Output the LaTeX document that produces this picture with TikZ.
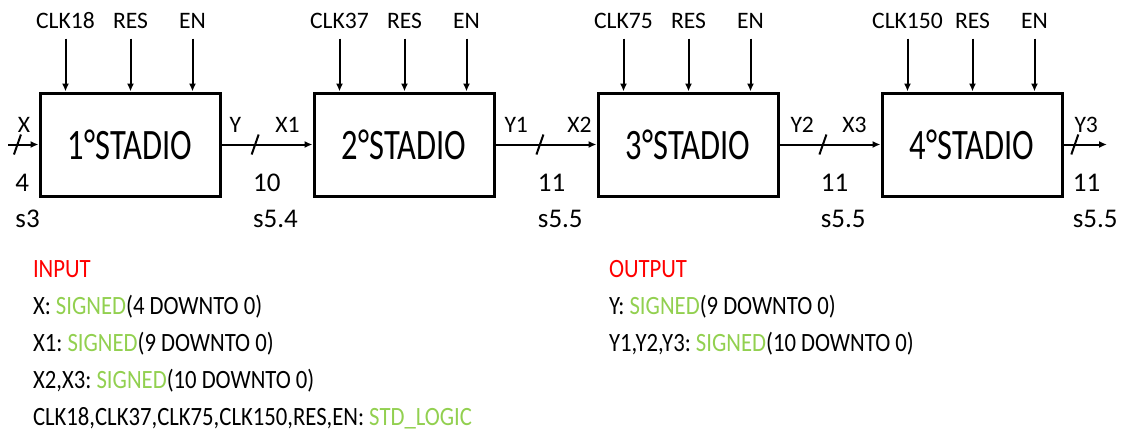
\documentclass[tikz,border=0pt]{standalone}
\usepackage{fontspec}
\setmainfont{Carlito}
\newfontfamily\boxfont{Carlito}[FakeStretch=0.75]
\newfontfamily\notefont{Carlito}[FakeStretch=0.86]
\usepackage{xcolor}
\usetikzlibrary{arrows.meta,positioning,calc}
\definecolor{vhdred}{RGB}{255,0,0}
\definecolor{vhdgreen}{RGB}{146,208,80}
\newcommand{\sgn}[1]{\textcolor{vhdgreen}{#1}}
\begin{document}
\begin{tikzpicture}[
    x=0.5pt,y=-0.5pt,
    stage/.style={draw,line width=1.5pt,minimum width=90pt,minimum height=51.5pt,inner sep=0pt,font=\boxfont\fontsize{21.7}{26}\selectfont},
    sig/.style={anchor=south,inner xsep=0pt,inner ysep=4.5pt,font=\fontsize{11.8}{14}\selectfont},
    num/.style={anchor=base west,inner sep=0pt,font=\fontsize{13.5}{16}\selectfont},
    note/.style={anchor=base west,inner sep=0pt,font=\notefont\fontsize{13.2}{16}\selectfont\frenchspacing},
    busmark/.pic={\draw[line width=1pt] (-3.5,10) -- (3.5,-10);},
    every path/.style={line width=1pt},
    >={Latex[length=4pt,width=3.5pt]}
  ]
    \useasboundingbox (0,0) rectangle (1121,434);
    \node[stage] (st1) at (130,144.5) {1°STADIO};
    \node[stage,right=45.5pt of st1] (st2) {2°STADIO};
    \node[stage,right=50.5pt of st2] (st3) {3°STADIO};
    \node[stage,right=50.5pt of st3] (st4) {4°STADIO};
    \coordinate (src) at (8,144.5);
    \coordinate (dst) at (1107,144.5);
    \foreach \i/\clk in {1/CLK18,2/CLK37,3/CLK75,4/CLK150}{
      \node[sig] (c\i) at ($(st\i.north west)+(27,-53)$) {\clk};
      \node[sig] (r\i) at ($(st\i.north west)+(92,-53)$) {RES};
      \node[sig] (e\i) at ($(st\i.north west)+(154,-53)$) {EN};
      \foreach \s in {c,r,e} \draw[->] (\s\i) -- (\s\i |- st\i.north);
    }
    \draw[->] (src) -- coordinate[pos=0.31] (b0) (st1);
    \draw[->] (st1) -- coordinate[pos=0.37] (b1) (st2);
    \draw[->] (st2) -- coordinate[pos=0.44] (b2) (st3);
    \draw[->] (st3) -- coordinate[pos=0.43] (b3) (st4);
    \draw[->] (st4) -- coordinate[pos=0.26] (b4) (dst);
    \foreach \k/\w/\q in {0/4/s3,1/10/s5.4,2/11/s5.5,3/11/s5.5,4/11/s5.5}{
      \pic at (b\k) {busmark};
      \node[num] (w\k) at ($(b\k)+(-3,47)$) {\w};
      \node[num] (q\k) at ($(b\k)+(-3,83)$) {\q};
    }
    \node[sig,anchor=base west] (lx0) at ($(src)+(9,-12.5)$) {X};
    \node[sig,anchor=base west] (ly1) at ($(st1.east)+(7,-12.5)$) {Y};
    \node[sig,anchor=base east] (lx1) at ($(st2.west)+(-12,-12.5)$) {X1};
    \node[sig,anchor=base west] (ly2) at ($(st2.east)+(8,-12.5)$) {Y1};
    \node[sig,anchor=base east] (lx2) at ($(st3.west)+(-4,-12.5)$) {X2};
    \node[sig,anchor=base west] (ly3) at ($(st3.east)+(10,-12.5)$) {Y2};
    \node[sig,anchor=base east] (lx3) at ($(st4.west)+(-13,-12.5)$) {X3};
    \node[sig,anchor=base west] (ly4) at ($(st4.east)+(10,-12.5)$) {Y3};
    \foreach \k/\y/\txt in {1/277/{\textcolor{vhdred}{INPUT}},
        2/314/{X: \sgn{SIGNED}(4 DOWNTO 0)},
        3/351/{X1: \sgn{SIGNED}(9 DOWNTO 0)},
        4/388/{X2,X3: \sgn{SIGNED}(10 DOWNTO 0)},
        5/425/{CLK18,CLK37,CLK75,CLK150,RES,EN: \sgn{STD\_LOGIC}}}
      \node[note] (ni\k) at (32,\y) {\txt};
    \foreach \k/\y/\txt in {1/277/{\textcolor{vhdred}{OUTPUT}},
        2/314/{Y: \sgn{SIGNED}(9 DOWNTO 0)},
        3/351/{Y1,Y2,Y3: \sgn{SIGNED}(10 DOWNTO 0)}}
      \node[note] (no\k) at (608,\y) {\txt};
  \end{tikzpicture}
\end{document}
